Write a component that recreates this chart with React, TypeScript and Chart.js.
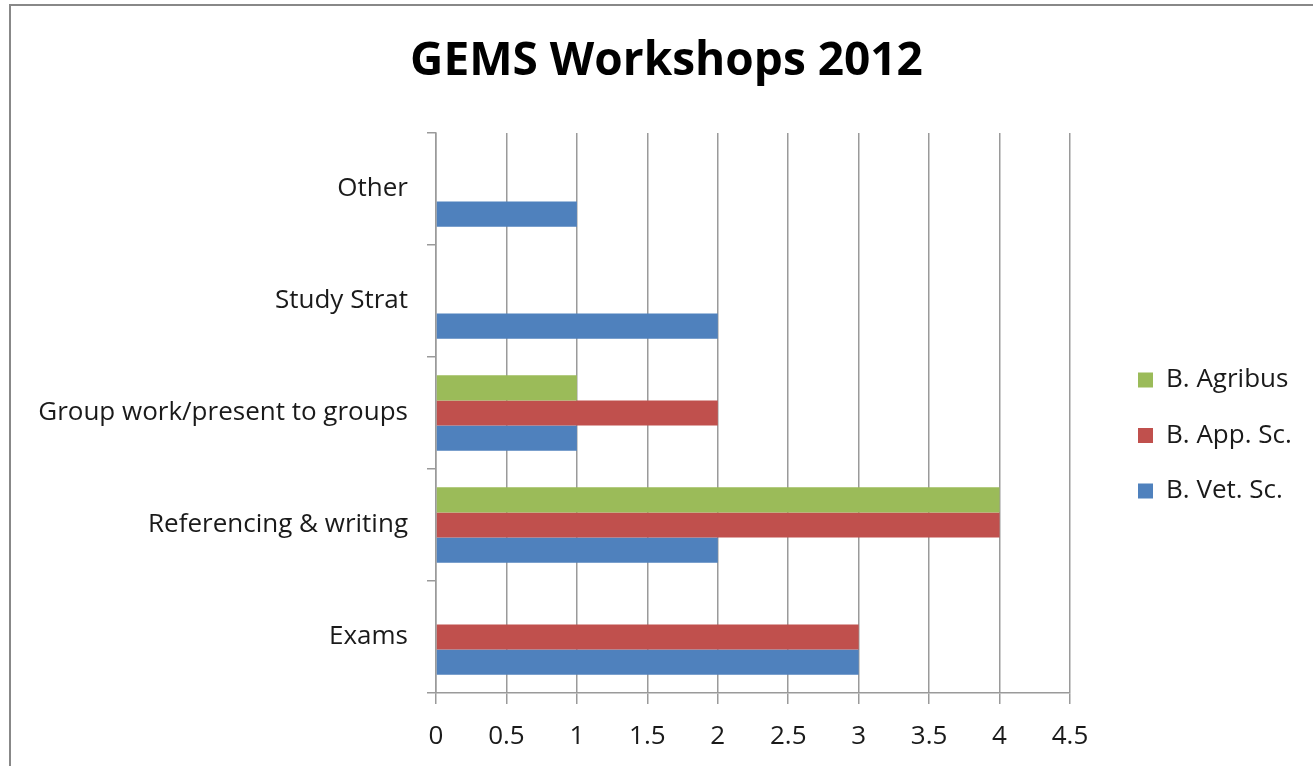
import React, { useEffect, useRef } from "react";
import { Chart, registerables } from "chart.js";

Chart.register(...registerables);

const categories = [
  "Other",
  "Study Strat",
  "Group work/present to groups",
  "Referencing & writing",
  "Exams",
];
const seriesNames = ["B. Agribus", "B. App. Sc.", "B. Vet. Sc."];
const agribusValues = [0, 0, 1, 4, 0];
const appScValues = [0, 0, 2, 4, 3];
const vetScValues = [1, 2, 1, 2, 3];
const seriesColors = ["#9BBB59", "#C0504D", "#4F81BD"];
const xMin = 0;
const xMax = 4.5;
const xStep = 0.5;

const FONT = "'Open Sans', sans-serif";
const GRID = "#9a9a9a";

const W = 1313;
const H = 766;

const legendShift = {
  id: "legendShift",
  afterLayout(chart: any) {
    const l = chart.legend;
    if (!l) return;
    const dx = 38.5;
    const dy = 52.5;
    l.left += dx;
    l.right += dx;
    l.top += dy;
    l.bottom += dy;
  },
};

export default function App() {
  const ref = useRef<HTMLCanvasElement | null>(null);

  useEffect(() => {
    if (!ref.current) return;
    const values = [agribusValues, appScValues, vetScValues];
    const chart = new Chart(ref.current, {
      type: "bar",
      data: {
        labels: categories,
        datasets: seriesNames.map((name, i) => ({
          label: name,
          data: values[i],
          backgroundColor: seriesColors[i],
          borderWidth: 0,
          categoryPercentage: 0.675,
          barPercentage: 1,
        })),
      },
      options: {
        indexAxis: "y",
        responsive: false,
        animation: false,
        devicePixelRatio: 1,
        layout: { padding: { left: 20, right: 0, top: 0, bottom: 0 } },
        scales: {
          x: {
            min: xMin,
            max: xMax,
            ticks: {
              stepSize: xStep,
              color: "#1a1a1a",
              font: { family: FONT, size: 26 },
              padding: 17,
              callback: (v: any) => String(Number(v)),
            },
            grid: {
              color: GRID,
              lineWidth: 1.5,
              drawTicks: true,
              tickLength: 11,
              tickColor: GRID,
            },
            border: { display: true, color: GRID, width: 1.5 },
            afterFit: (s: any) => {
              s.height = 73;
              s.paddingRight = W - 1070;
            },
          },
          y: {
            offset: true,
            ticks: {
              color: "#1a1a1a",
              font: { family: FONT, size: 26 },
              padding: 19,
            },
            grid: {
              offset: true,
              drawOnChartArea: false,
              drawTicks: true,
              tickLength: 9,
              color: GRID,
              lineWidth: 1.5,
            },
            border: { display: true, color: GRID, width: 1.5 },
            afterFit: (s: any) => {
              s.width = 436 - 20;
            },
          },
        },
        plugins: {
          title: {
            display: true,
            text: "GEMS Workshops 2012",
            color: "#000",
            font: { family: FONT, size: 46, weight: "bold" },
            padding: { top: 34, bottom: 43.8 },
          },
          legend: {
            position: "right",
            labels: {
              boxWidth: 15,
              boxHeight: 15,
              padding: 29.5,
              color: "#1a1a1a",
              font: { family: FONT, size: 26 },
            },
          },
          tooltip: { enabled: false },
        },
      },
      plugins: [legendShift],
    });
    return () => chart.destroy();
  }, []);

  return (
    <div style={{ position: "fixed", left: 0, top: 0, width: W, height: H, overflow: "hidden", background: "#fff" }}>
      <div
        style={{
          position: "absolute",
          left: 9,
          top: 4,
          width: 1500,
          height: 1000,
          border: "2px solid #888",
          boxSizing: "border-box",
        }}
      />
      <canvas
        ref={ref}
        width={W}
        height={H}
        style={{ position: "absolute", left: 0, top: 0, width: W, height: H }}
      />
    </div>
  );
}
